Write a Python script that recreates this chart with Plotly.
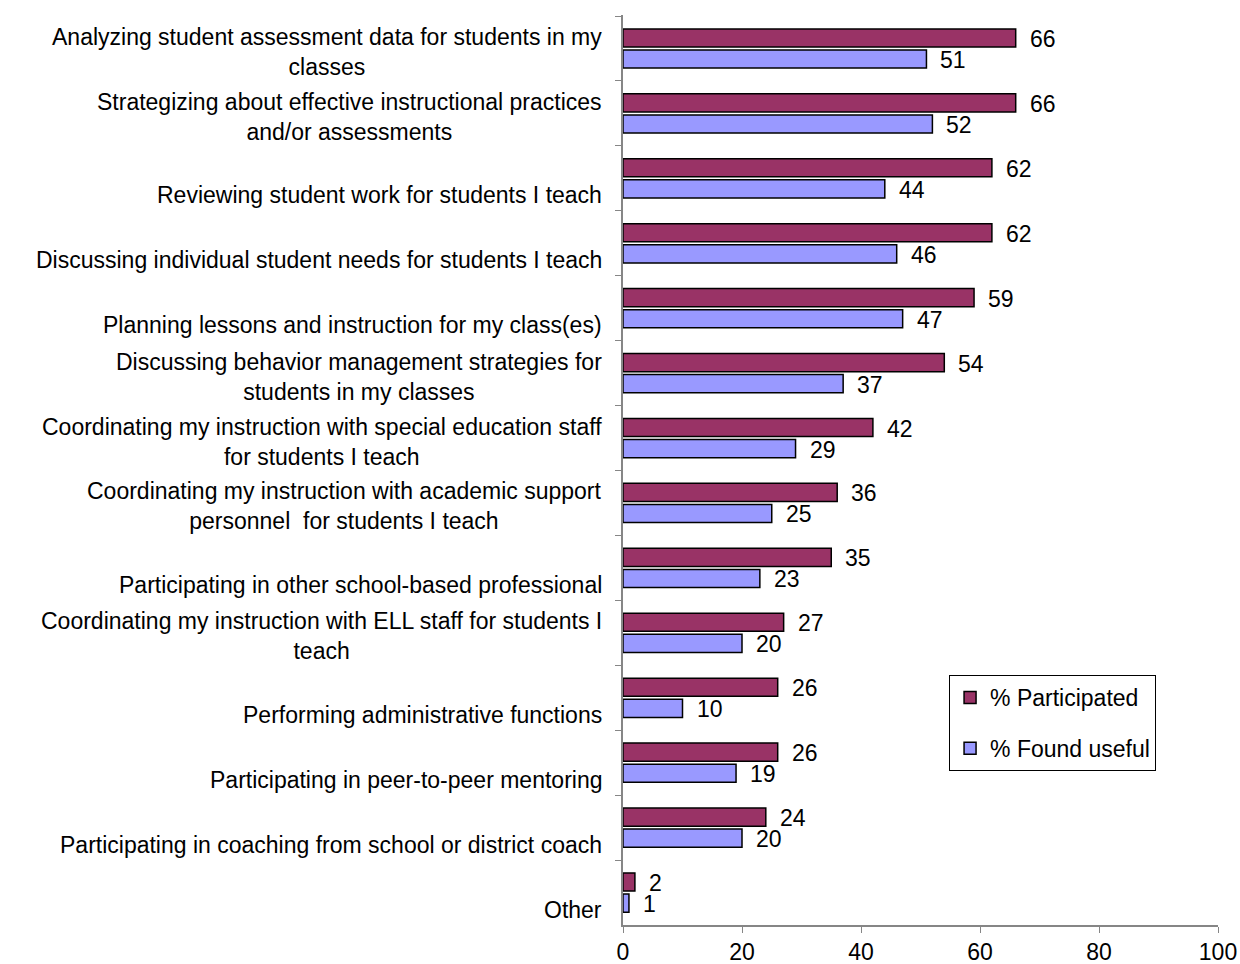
import plotly.graph_objects as go

# Activities (top to bottom) and percentages for each measure
activities = [
    "Analyzing student assessment data for students in my<br>classes",
    "Strategizing about effective instructional practices<br>and/or assessments",
    "Reviewing student work for students I teach",
    "Discussing individual student needs for students I teach",
    "Planning lessons and instruction for my class(es)",
    "Discussing behavior management strategies for<br>students in my classes",
    "Coordinating my instruction with special education staff<br>for students I teach",
    "Coordinating my instruction with academic support<br>personnel  for students I teach",
    "Participating in other school-based professional",
    "Coordinating my instruction with ELL staff for students I<br>teach",
    "Performing administrative functions",
    "Participating in peer-to-peer mentoring",
    "Participating in coaching from school or district coach",
    "Other",
]
participated = [66, 66, 62, 62, 59, 54, 42, 36, 35, 27, 26, 26, 24, 2]
found_useful = [51, 52, 44, 46, 47, 37, 29, 25, 23, 20, 10, 19, 20, 1]
x_ticks = [0, 20, 40, 60, 80, 100]

FONT = "Liberation Sans, Arial, sans-serif"
FS = 23
C_PART = "#993366"
C_USE = "#9999FF"

cat_ids = [f"c{i}" for i in range(len(activities))]

fig = go.Figure()
fig.add_trace(go.Bar(
    y=cat_ids, x=participated, orientation="h", name="% Participated",
    marker=dict(color=C_PART, line=dict(color="black", width=1.5)),
    legendgroup="a",
))
fig.add_trace(go.Bar(
    y=cat_ids, x=found_useful, orientation="h", name="% Found useful",
    marker=dict(color=C_USE, line=dict(color="black", width=1.5)),
    legendgroup="b",
))

annotations = []
# Category labels, right-aligned against the axis
for cid, label in zip(cat_ids, activities):
    n_lines = label.count("<br>") + 1
    annotations.append(dict(
        x=0, xref="paper", xanchor="right", xshift=-19,
        y=cid, yref="y", yanchor="middle", yshift=-17 if n_lines == 1 else -3.5,
        text=label, showarrow=False, align="center",
        font=dict(family=FONT, size=FS, color="black"),
    ))
# Value labels beside each bar
for cid, p, u in zip(cat_ids, participated, found_useful):
    for val, shift in ((p, 9.5), (u, -11.5)):
        annotations.append(dict(
            x=val, xref="x", xanchor="left", xshift=13,
            y=cid, yref="y", yanchor="middle", yshift=shift,
            text=str(val), showarrow=False, borderpad=0,
            font=dict(family=FONT, size=FS, color="black"),
        ))

fig.update_layout(
    width=1240, height=964,
    margin=dict(l=623, r=22, t=15, b=39),
    paper_bgcolor="white", plot_bgcolor="white",
    barmode="group", bargap=0.35, bargroupgap=0.14,
    font=dict(family=FONT, size=FS, color="black"),
    annotations=annotations,
    showlegend=True,
    legend=dict(
        x=0.548, y=0.2747, xanchor="left", yanchor="top",
        bordercolor="black", borderwidth=1, bgcolor="white",
        font=dict(family=FONT, size=FS, color="black"),
        traceorder="grouped", tracegroupgap=18,
        itemwidth=30,
    ),
    xaxis=dict(
        range=[0, 100], tickvals=x_ticks, ticks="outside", ticklen=6,
        tickcolor="#868686", showline=True, linecolor="#868686", linewidth=1.5,
        showgrid=False, zeroline=False, automargin=False,
        tickfont=dict(family=FONT, size=FS, color="black"),
    ),
    yaxis=dict(
        type="category", autorange="reversed", tickson="boundaries",
        ticks="outside", ticklen=6, tickcolor="#868686",
        showline=True, linecolor="#868686", linewidth=1.5, automargin=False,
        showticklabels=False, showgrid=False, zeroline=False,
    ),
)

fig.write_html("out.html")
